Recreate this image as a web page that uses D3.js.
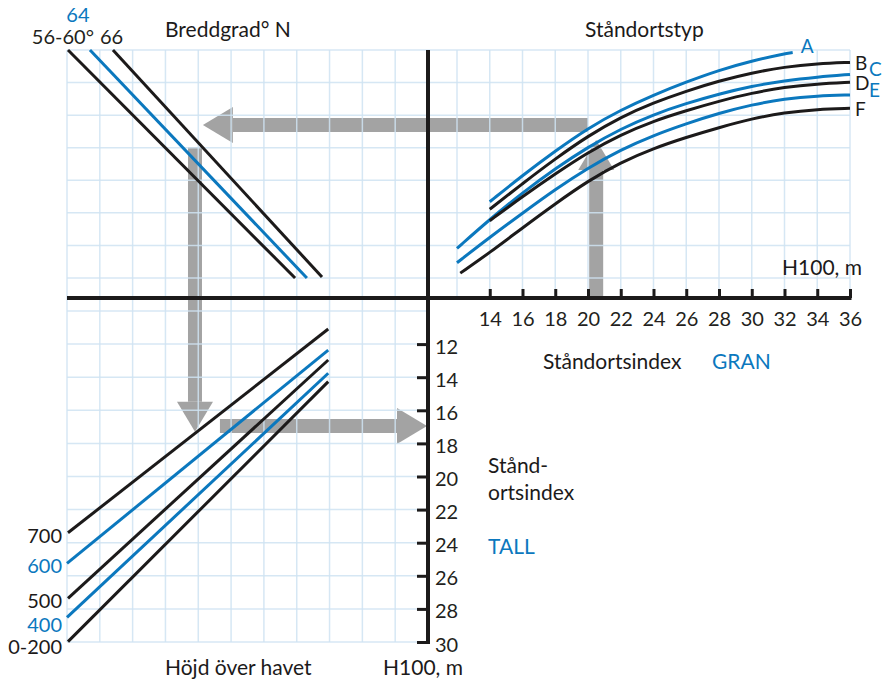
<!DOCTYPE html>
<html>
<head>
<meta charset="utf-8">
<script src="https://cdn.jsdelivr.net/npm/d3@7"></script>
<style>
  body { margin: 0; background: #fff; }
  svg text { font-family: Lato, "Open Sans", sans-serif; fill: #231f20; }
</style>
</head>
<body>
<div id="chart"></div>
<script>
// tick labels
const h100Ticks = [14, 16, 18, 20, 22, 24, 26, 28, 30, 32, 34, 36];
const indexTicks = [12, 14, 16, 18, 20, 22, 24, 26, 28, 30];

// Ståndortstyp curves, [H100 m, transfer value in grid steps]
const siteTypes = ['A', 'B', 'C', 'D', 'E', 'F'];
const curveA = [[14, 2.34], [16, 3.15], [18, 3.90], [20, 4.60], [22, 5.16], [24, 5.62], [26, 6.02], [28, 6.38], [30, 6.67], [32, 6.88], [32.5, 6.92]];
const curveB = [[14, 2.11], [16, 2.90], [18, 3.66], [20, 4.36], [22, 4.94], [24, 5.38], [26, 5.74], [28, 6.05], [30, 6.30], [32, 6.48], [34, 6.58], [36, 6.62]];
const curveC = [[12, 0.91], [14, 1.80], [16, 2.62], [18, 3.36], [20, 4.02], [22, 4.58], [24, 5.02], [26, 5.36], [28, 5.65], [30, 5.89], [32, 6.06], [34, 6.17], [36, 6.25]];
const curveD = [[14, 1.76], [16, 2.50], [18, 3.20], [20, 3.86], [22, 4.40], [24, 4.82], [26, 5.14], [28, 5.43], [30, 5.68], [32, 5.86], [34, 5.96], [36, 6.01]];
const curveE = [[12, 0.47], [14, 1.25], [16, 1.99], [18, 2.72], [20, 3.38], [22, 3.94], [24, 4.38], [26, 4.74], [28, 5.06], [30, 5.32], [32, 5.50], [34, 5.59], [36, 5.62]];
const curveF = [[12.2, 0.15], [14, 0.78], [16, 1.54], [18, 2.28], [20, 2.98], [22, 3.55], [24, 3.98], [26, 4.32], [28, 4.62], [30, 4.89], [32, 5.08], [34, 5.18], [36, 5.21]];

// Breddgrad lines, [grid step, transfer value]
const latLabels = ['56-60°', '64', '66'];
const lat5660 = [[0.03, 7], [6.95, 0]];
const lat64 = [[0.70, 7], [7.31, 0]];
const lat66 = [[1.40, 7], [7.77, 0.03]];

// Höjd över havet lines, [grid step, ståndortsindex TALL]
const altLabels = ['700', '600', '500', '400', '0-200'];
const alt700 = [[0.03, 23.40], [7.96, 11.09]];
const alt600 = [[0.0, 25.25], [7.96, 12.36]];
const alt500 = [[0.03, 27.36], [7.96, 12.96]];
const alt400 = [[0.0, 28.51], [7.96, 13.76]];
const alt0200 = [[0.03, 29.98], [7.96, 14.27]];

// example reading: H100 20.5 -> curve -> latitude -> altitude -> index 17
const readH100 = 20.5;
const readUpTo = 4.24;
const readLeftAt = 4.70;
const readLeftFrom = 20.0;
const readLeftTo = 4.14;
const readDownAt = 3.90;
const readDownFrom = 4.02;
const readDownTo = 17.3;
const readRightAt = 16.95;
const readRightFrom = 4.66;

const blue = '#0b78be';
const ink = '#1c1a1a';
const gridColor = '#cfe3f2';
const arrowGray = '#a3a3a3';

const width = 888, height = 680;
const axisX = 428, axisY = 298;

const svg = d3.select('#chart').append('svg')
    .attr('width', width)
    .attr('height', height);

// scales per quadrant
const xL = d3.scaleLinear().domain([0, 11]).range([67, axisX]);   // left half, grid steps
const yT = d3.scaleLinear().domain([0, 7]).range([278, 50]);      // upper half, grid steps
const xH = d3.scaleLinear().domain([12, 36]).range([457, 850]);   // H100, m
const yI = d3.scaleLinear().domain([10, 30]).range([311, 642]);   // ståndortsindex TALL

// gray reading arrows (drawn first, grid sits over them)
const arrows = svg.append('g');
function arrow(x1, y1, x2, y2) {
    const len = Math.hypot(x2 - x1, y2 - y1);
    const ux = (x2 - x1) / len, uy = (y2 - y1) / len;
    const head = 30, half = 18;
    const bx = x2 - ux * head, by = y2 - uy * head;
    arrows.append('line')
        .attr('x1', x1).attr('y1', y1).attr('x2', bx).attr('y2', by)
        .attr('stroke', arrowGray).attr('stroke-width', 14);
    arrows.append('polygon')
        .attr('points', [[x2, y2], [bx - uy * half, by + ux * half], [bx + uy * half, by - ux * half]].join(' '))
        .attr('fill', arrowGray);
}
arrow(xH(readH100), axisY, xH(readH100), yT(readUpTo));
arrow(xH(readLeftFrom), yT(readLeftAt), xL(readLeftTo), yT(readLeftAt));
arrow(xL(readDownAt), yT(readDownFrom), xL(readDownAt), yI(readDownTo));
arrow(xL(readRightFrom), yI(readRightAt), axisX - 1, yI(readRightAt));

// grid
const grid = svg.append('g')
    .attr('stroke', gridColor)
    .attr('stroke-width', 1.5)
    .attr('stroke-opacity', 0.85);
d3.range(0, 11).forEach(i => {
    grid.append('line').attr('x1', xL(i)).attr('x2', xL(i)).attr('y1', yT(7)).attr('y2', yI(30));
});
d3.range(0, 8).forEach(v => {
    grid.append('line').attr('x1', xL(0)).attr('x2', xH(36)).attr('y1', yT(v)).attr('y2', yT(v));
});
d3.range(12, 37, 2).forEach(h => {
    grid.append('line').attr('x1', xH(h)).attr('x2', xH(h)).attr('y1', yT(7)).attr('y2', axisY);
});
d3.range(10, 31, 2).forEach(t => {
    grid.append('line').attr('x1', xL(0)).attr('x2', axisX).attr('y1', yI(t)).attr('y2', yI(t));
});

// site type curves
const curves = [curveA, curveB, curveC, curveD, curveE, curveF];
const siteLine = d3.line()
    .x(d => xH(d[0]))
    .y(d => yT(d[1]))
    .curve(d3.curveBasis);
curves.forEach((c, i) => {
    const color = i % 2 === 0 ? blue : ink;
    svg.append('path')
        .datum(c)
        .attr('fill', 'none')
        .attr('stroke', color)
        .attr('stroke-width', 3)
        .attr('d', siteLine);
    const last = c[c.length - 1];
    const dx = i === 0 ? 8 : (i % 2 === 0 ? 19 : 5);
    const dy = i === 0 ? -6 : (i % 2 === 0 ? -5 : 1);
    svg.append('text')
        .attr('x', xH(last[0]) + dx)
        .attr('y', yT(last[1]) + dy)
        .attr('dy', '0.36em')
        .style('font-size', '19px')
        .style('fill', color)
        .text(siteTypes[i]);
});

// latitude lines
const lats = [lat5660, lat64, lat66];
const plainLine = (xs, ys) => d3.line().x(d => xs(d[0])).y(d => ys(d[1]));
lats.forEach((l, i) => {
    svg.append('path')
        .datum(l)
        .attr('fill', 'none')
        .attr('stroke', i === 1 ? blue : ink)
        .attr('stroke-width', 3)
        .attr('d', plainLine(xL, yT));
});
svg.append('text').attr('x', xL(lat5660[0][0]) + 26).attr('y', 44)
    .attr('text-anchor', 'end').style('font-size', '20px').text(latLabels[0]);
svg.append('text').attr('x', xL(lat64[0][0]) - 12).attr('y', 22)
    .attr('text-anchor', 'middle').style('font-size', '20px').style('fill', blue).text(latLabels[1]);
svg.append('text').attr('x', xL(lat66[0][0]) - 13).attr('y', 44)
    .attr('text-anchor', 'start').style('font-size', '20px').text(latLabels[2]);

// altitude lines
const alts = [alt700, alt600, alt500, alt400, alt0200];
const altNudge = [0, 0, 0, 5, 2];
alts.forEach((a, i) => {
    const color = i % 2 === 1 ? blue : ink;
    svg.append('path')
        .datum(a)
        .attr('fill', 'none')
        .attr('stroke', color)
        .attr('stroke-width', 3)
        .attr('d', plainLine(xL, yI));
    svg.append('text')
        .attr('x', 62)
        .attr('y', yI(a[0][1]) + 10 + altNudge[i])
        .attr('text-anchor', 'end')
        .style('font-size', '20px')
        .style('fill', color)
        .text(altLabels[i]);
});

// H100 axis ticks (pointing up), labels below
const hAxis = svg.append('g')
    .attr('transform', `translate(0,${axisY})`)
    .call(d3.axisBottom(xH).tickValues(h100Ticks).tickSize(-9).tickPadding(14));
hAxis.select('.domain').remove();
hAxis.selectAll('line').attr('stroke', ink).attr('stroke-width', 3);
hAxis.selectAll('text').style('font-size', '20px').style('font-family', 'Lato, sans-serif').attr('fill', ink);

// TALL index axis ticks (pointing left), labels right
const iAxis = svg.append('g')
    .attr('transform', `translate(${axisX},0)`)
    .call(d3.axisRight(yI).tickValues(indexTicks).tickSize(-11).tickPadding(7));
iAxis.select('.domain').remove();
iAxis.selectAll('line').attr('stroke', ink).attr('stroke-width', 3);
iAxis.selectAll('text').style('font-size', '20px').style('font-family', 'Lato, sans-serif')
    .attr('fill', ink).attr('dy', '0.45em');

// main cross axes
svg.append('line').attr('x1', xL(0)).attr('x2', xH(36) + 1.5).attr('y1', axisY).attr('y2', axisY)
    .attr('stroke', ink).attr('stroke-width', 4);
svg.append('line').attr('x1', axisX).attr('x2', axisX).attr('y1', yT(7)).attr('y2', yI(30) + 2)
    .attr('stroke', ink).attr('stroke-width', 4);

// titles
const label = (x, y, txt, color, anchor) => svg.append('text')
    .attr('x', x).attr('y', y)
    .attr('text-anchor', anchor || 'start')
    .style('font-size', '21px')
    .style('fill', color || ink)
    .text(txt);
label(165, 37, 'Breddgrad° N');
label(585, 37, 'Ståndortstyp');
label(862, 275, 'H100, m', ink, 'end');
label(543, 369, 'Ståndortsindex');
label(712, 369, 'GRAN', blue);
label(488, 473, 'Stånd-');
label(488, 500, 'ortsindex');
label(488, 554, 'TALL', blue);
label(165, 675, 'Höjd över havet');
label(463, 675, 'H100, m', ink, 'end');
</script>
</body>
</html>
